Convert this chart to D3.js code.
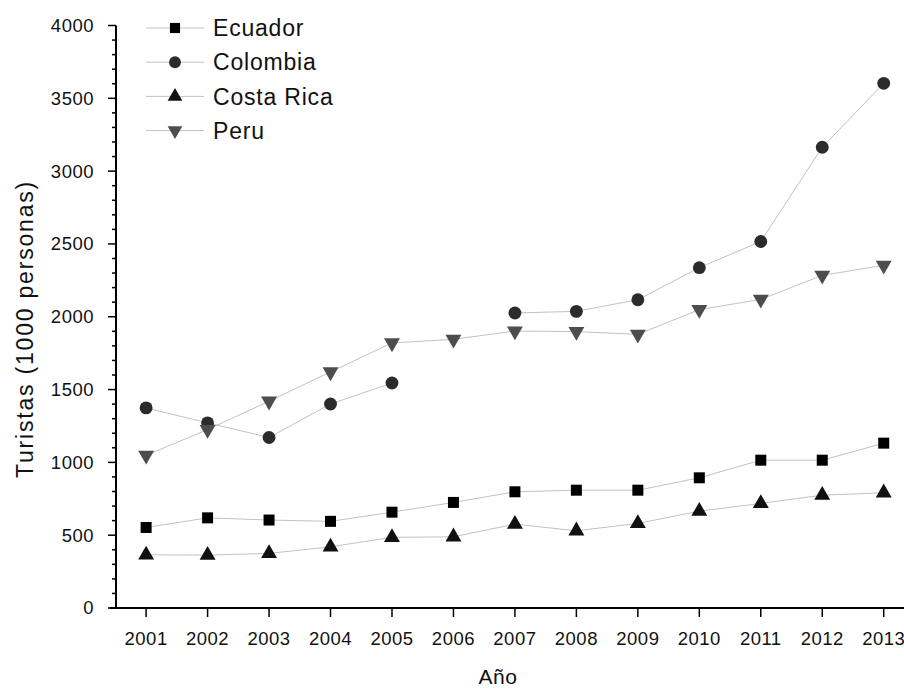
<!DOCTYPE html>
<html>
<head>
<meta charset="utf-8">
<script src="https://cdn.jsdelivr.net/npm/d3@7"></script>
<style>
  body { margin: 0; background: #fff; }
  svg { display: block; font-family: "Liberation Sans", Arial, sans-serif; }
</style>
</head>
<body>
<div id="chart"></div>
<script>
const years = [2001, 2002, 2003, 2004, 2005, 2006, 2007, 2008, 2009, 2010, 2011, 2012, 2013];
const ecuador = [553, 619, 604, 595, 658, 725, 798, 809, 809, 894, 1015, 1015, 1132];
const colombia = [1374, 1271, 1171, 1401, 1545, null, 2026, 2037, 2117, 2337, 2517, 3164, 3603];
const costaRica = [365, 363, 375, 420, 485, 489, 576, 530, 581, 665, 718, 775, 791];
const peru = [1049, 1225, 1420, 1621, 1820, 1845, 1902, 1898, 1879, 2049, 2119, 2284, 2353];
const yTicks = [0, 500, 1000, 1500, 2000, 2500, 3000, 3500, 4000];

const series = [
  { name: "Ecuador", vals: ecuador, sym: d3.symbolSquare, size: 121, fill: "#000", rot: 0 },
  { name: "Colombia", vals: colombia, sym: d3.symbolCircle, size: 130, fill: "#2b2b2b", rot: 0 },
  { name: "Costa Rica", vals: costaRica, sym: d3.symbolTriangle, size: 110, fill: "#111", rot: 0 },
  { name: "Peru", vals: peru, sym: d3.symbolTriangle, size: 110, fill: "#4d4d4d", rot: 180 }
];

const svgWidth = 904, svgHeight = 689;
const svg = d3.select("#chart").append("svg").attr("width", svgWidth).attr("height", svgHeight);

const x = d3.scaleLinear().domain([2000.51, 2013.33]).range([116, 904]);
const y = d3.scaleLinear().domain([0, 4000]).range([608, 25.5]);

// y axis with minor ticks
const yAxis = svg.append("g").attr("transform", "translate(116,0)");
yAxis.append("line").attr("y1", y(4000)).attr("y2", y(0)).attr("stroke", "#000").attr("stroke-width", 2);
yAxis.selectAll("line.minor").data(d3.range(0, 4001, 100).filter(v => v % 500 !== 0))
  .enter().append("line").attr("class", "minor")
  .attr("x1", -4).attr("x2", 0).attr("y1", d => y(d)).attr("y2", d => y(d))
  .attr("stroke", "#000").attr("stroke-width", 1.5);
yAxis.selectAll("line.major").data(yTicks)
  .enter().append("line").attr("class", "major")
  .attr("x1", -8).attr("x2", 0).attr("y1", d => y(d)).attr("y2", d => y(d))
  .attr("stroke", "#000").attr("stroke-width", 1.5);
yAxis.selectAll("text").data(yTicks).enter().append("text")
  .attr("x", -22).attr("y", d => y(d)).attr("dy", "0.35em")
  .attr("text-anchor", "end").attr("font-size", 18.5).attr("letter-spacing", 0.5).attr("fill", "#111")
  .text(d => d);

// x axis
const xAxis = svg.append("g").attr("transform", "translate(0,608)");
xAxis.append("line").attr("x1", 110).attr("x2", 904).attr("stroke", "#000").attr("stroke-width", 2);
xAxis.selectAll("line.tick").data(years).enter().append("line").attr("class", "tick")
  .attr("x1", d => x(d)).attr("x2", d => x(d)).attr("y1", 0).attr("y2", 9)
  .attr("stroke", "#000").attr("stroke-width", 1.5);
xAxis.selectAll("text").data(years).enter().append("text")
  .attr("x", d => x(d)).attr("y", 37).attr("text-anchor", "middle")
  .attr("font-size", 18.5).attr("letter-spacing", 0.5).attr("fill", "#111").text(d => d);

svg.append("text").attr("x", 498).attr("y", 684).attr("text-anchor", "middle")
  .attr("font-size", 21).attr("letter-spacing", 0.5).attr("fill", "#111").text("Año");
svg.append("text").attr("transform", "translate(33,329) rotate(-90)").attr("text-anchor", "middle")
  .attr("font-size", 23).attr("letter-spacing", 1.8).attr("fill", "#111").text("Turistas (1000 personas)");

// lines and markers
const line = d3.line().defined(d => d[1] != null).x(d => x(d[0])).y(d => y(d[1]));
series.forEach(s => {
  const pts = years.map((yr, i) => [yr, s.vals[i]]);
  svg.append("path").datum(pts).attr("d", line)
    .attr("fill", "none").attr("stroke", "#c2c2c2").attr("stroke-width", 1);
  svg.selectAll(null).data(pts.filter(d => d[1] != null)).enter().append("path")
    .attr("d", d3.symbol().type(s.sym).size(s.size))
    .attr("transform", d => `translate(${x(d[0])},${y(d[1])}) rotate(${s.rot})`)
    .attr("fill", s.fill);
});

// legend
const legend = svg.append("g");
series.forEach((s, i) => {
  const ly = 28 + i * 34.2;
  legend.append("line").attr("x1", 146).attr("x2", 204).attr("y1", ly).attr("y2", ly)
    .attr("stroke", "#c2c2c2").attr("stroke-width", 1);
  legend.append("path").attr("d", d3.symbol().type(s.sym).size(s.size * 0.85))
    .attr("transform", `translate(175,${ly}) rotate(${s.rot})`).attr("fill", s.fill);
  legend.append("text").attr("x", 213).attr("y", ly).attr("dy", "0.36em")
    .attr("font-size", 23).attr("letter-spacing", 0.8).attr("fill", "#111").text(s.name);
});
</script>
</body>
</html>
